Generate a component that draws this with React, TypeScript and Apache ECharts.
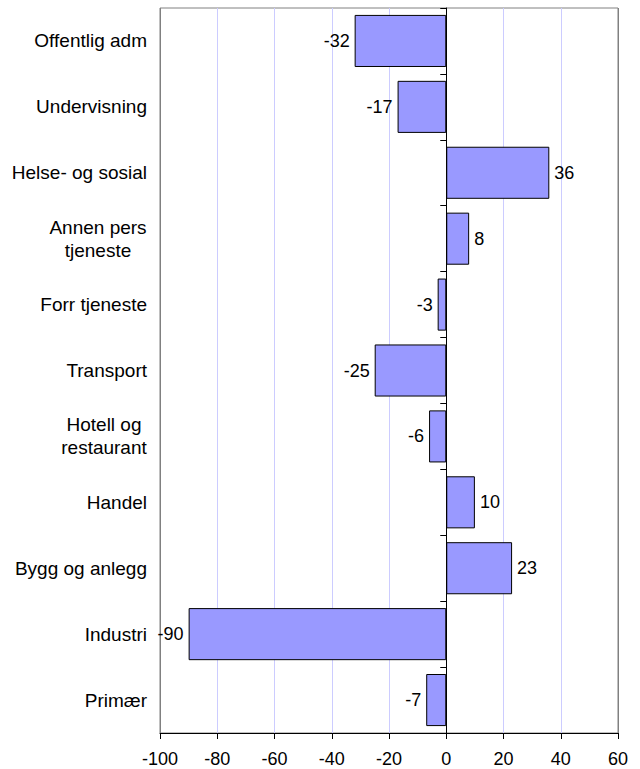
import React, { useEffect, useRef } from "react";
import * as echarts from "echarts";

const categories = [
  "Offentlig adm",
  "Undervisning",
  "Helse- og sosial",
  "Annen pers\ntjeneste",
  "Forr tjeneste",
  "Transport",
  "Hotell og\nrestaurant",
  "Handel",
  "Bygg og anlegg",
  "Industri",
  "Primær",
];
const values = [-32, -17, 36, 8, -3, -25, -6, 10, 23, -90, -7];
const xMin = -100;
const xMax = 60;
const xInterval = 20;

const FONT = '"Liberation Sans", Arial, sans-serif';
const FS = 18;
const CFS = 19;

let measureCtx: CanvasRenderingContext2D | null = null;
function measure(t: string): number {
  if (!measureCtx) {
    const c = document.createElement("canvas");
    measureCtx = c.getContext("2d");
  }
  if (!measureCtx) return t.length * CFS * 0.5;
  measureCtx.font = `${CFS}px ${FONT}`;
  return measureCtx.measureText(t).width;
}

export default function App() {
  const ref = useRef<HTMLDivElement>(null);
  useEffect(() => {
    document.body.style.margin = "0";
    if (!ref.current) return;
    const chart = echarts.init(ref.current, null, { renderer: "svg" });
    const nTicks = Math.round((xMax - xMin) / xInterval) + 1;
    const splitColors = Array.from({ length: nTicks }, (_, i) =>
      i === 0 || i === nTicks - 1 ? "#808080" : "#ccccff"
    );
    chart.setOption({
      animation: false,
      textStyle: { fontFamily: FONT },
      grid: {
        left: 160,
        right: 22,
        top: 8,
        bottom: 36,
        show: true,
        borderColor: "#808080",
        borderWidth: 1,
        backgroundColor: "transparent",
      },
      xAxis: {
        type: "value",
        min: xMin,
        max: xMax,
        interval: xInterval,
        axisLine: { show: true, onZero: false, lineStyle: { color: "#000", width: 1 } },
        axisTick: { show: true, length: 6, lineStyle: { color: "#000" } },
        axisLabel: { color: "#000", fontSize: FS, fontFamily: FONT, margin: 17 },
        splitLine: { show: true, lineStyle: { color: splitColors, width: 1 } },
      },
      yAxis: [
        {
          type: "category",
          data: categories,
          inverse: true,
          z: 5,
          axisLine: { show: true, onZero: true, lineStyle: { color: "#000", width: 1 } },
          axisTick: { show: true, inside: false, length: 6, lineStyle: { color: "#000", width: 1 } },
          axisLabel: { show: false },
          splitLine: { show: false },
        },
        {
          type: "category",
          data: categories,
          inverse: true,
          position: "left",
          axisLine: { show: false, onZero: false },
          axisTick: { show: false },
          splitLine: { show: false },
          axisLabel: {
            show: true,
            color: "#000",
            fontSize: CFS,
            fontFamily: FONT,
            margin: 13,
            lineHeight: 23,
            align: "right",
            formatter: (v: string) => {
              if (v.indexOf("\n") < 0) return v;
              const lines = v.split("\n");
              const w = Math.ceil(Math.max(...lines.map(measure)));
              return lines.map((l) => `{c${w}|${l}}`).join("\n");
            },
            rich: (() => {
              const r: Record<string, any> = {};
              categories
                .filter((c) => c.indexOf("\n") >= 0)
                .forEach((c) => {
                  const w = Math.ceil(Math.max(...c.split("\n").map(measure)));
                  r["c" + w] = {
                    width: w,
                    align: "center",
                    fontSize: CFS,
                    fontFamily: FONT,
                    color: "#000",
                    lineHeight: 23,
                  };
                });
              return r;
            })(),
          },
        },
      ],
      series: [
        {
          type: "bar",
          yAxisIndex: 0,
          barCategoryGap: "21%",
          data: values.map((v) => ({
            value: v,
            label: { position: v < 0 ? "left" : "right" },
          })),
          itemStyle: { color: "#9999ff", borderColor: "#000", borderWidth: 1 },
          label: {
            show: true,
            color: "#000",
            fontSize: FS,
            fontFamily: FONT,
            distance: 5,
          },
        },
      ],
    });
    return () => chart.dispose();
  }, []);
  return <div ref={ref} style={{ width: 640, height: 769 }} />;
}
